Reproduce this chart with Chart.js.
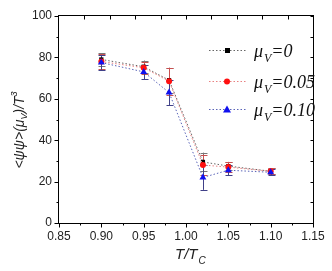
<!DOCTYPE html>
<html>
<head>
<meta charset="utf-8">
<script src="https://cdn.jsdelivr.net/npm/chart.js@4"></script>
<style>
  html, body { margin: 0; padding: 0; background: #fff; }
  #wrap { width: 332px; height: 271px; }
</style>
</head>
<body>
<div id="wrap"><canvas id="c" width="332" height="271"></canvas></div>
<script>
// data
const temps = [0.90, 0.95, 0.98, 1.02, 1.05, 1.10];
const mu0 = [79, 75.5, 69, 29.5, 27.5, 25];
const mu005 = [78, 75, 68.5, 28, 27, 25];
const mu010 = [77.5, 73, 63, 22, 25.5, 24.5];
const err0 = [3, 3, 6, 4.5, 2, 1.5];
const err005 = [3.5, 3, 6.5, 5, 2.5, 1.5];
const err010 = [3.5, 3.5, 6, 6, 2.5, 1.5];
const yTicks = [0, 20, 40, 60, 80, 100];
const xTicks = [0.85, 0.90, 0.95, 1.00, 1.05, 1.10, 1.15];
const labels = ['=0', '=0.05', '=0.10'];

const pts = (ys) => temps.map((t, i) => ({ x: t, y: ys[i] }));

const series = [
  { ys: mu0, err: err0, line: '#666', mark: '#000', bar: '#777', shape: 'rect', size: 3 },
  { ys: mu005, err: err005, line: '#e88080', mark: '#ff1010', bar: '#c85050', shape: 'circle', size: 3 },
  { ys: mu010, err: err010, line: '#5a64b8', mark: '#1010ee', bar: '#404088', shape: 'triangle', size: 4 },
];

// error bars + frame + ticks + titles + legend
const extras = {
  id: 'extras',
  beforeDatasetsDraw(chart) {
    const ctx = chart.ctx, y = chart.scales.y;
    ctx.save();
    ctx.lineWidth = 1;
    series.forEach((s, si) => {
      const meta = chart.getDatasetMeta(si);
      ctx.strokeStyle = s.bar;
      meta.data.forEach((p, i) => {
        const px = Math.round(p.x) + 0.5;
        const top = y.getPixelForValue(s.ys[i] + s.err[i]);
        const bot = y.getPixelForValue(s.ys[i] - s.err[i]);
        ctx.beginPath();
        ctx.moveTo(px, top); ctx.lineTo(px, bot);
        ctx.moveTo(px - 3, Math.round(top) + 0.5); ctx.lineTo(px + 4, Math.round(top) + 0.5);
        ctx.moveTo(px - 3, Math.round(bot) + 0.5); ctx.lineTo(px + 4, Math.round(bot) + 0.5);
        ctx.stroke();
      });
    });
    ctx.restore();
  },
  afterDraw(chart) {
    const ctx = chart.ctx, a = chart.chartArea;
    const xs = chart.scales.x, ys = chart.scales.y;
    ctx.save();
    ctx.strokeStyle = '#000';
    ctx.lineWidth = 1;
    const L = Math.round(a.left) - 0.5, R = Math.round(a.right) + 0.5;
    const T = Math.round(a.top) - 0.5, B = Math.round(a.bottom) + 0.5;
    ctx.strokeRect(L, T, R - L, B - T);
    ctx.beginPath();
    // left: outward ticks
    for (let v = 0; v <= 100; v += 10) {
      const py = Math.round(ys.getPixelForValue(v)) + 0.5;
      const len = v % 20 === 0 ? 4 : 2;
      ctx.moveTo(L - len, py); ctx.lineTo(L, py);
      // right: inward
      ctx.moveTo(R, py); ctx.lineTo(R - 3, py);
    }
    // bottom: outward
    for (let k = 0; k <= 12; k++) {
      const v = 0.85 + k * 0.025;
      const px = Math.round(xs.getPixelForValue(v)) + 0.5;
      const len = k % 2 === 0 ? 4 : 2;
      ctx.moveTo(px, B); ctx.lineTo(px, B + len);
    }
    // top: inward, offset spacing as in original
    for (let k = 0; k < 10; k++) {
      const v = 0.88 + k * 0.03;
      if (v > 1.15) break;
      const px = Math.round(xs.getPixelForValue(v)) + 0.5;
      ctx.moveTo(px, T); ctx.lineTo(px, T + 4);
    }
    ctx.stroke();

    // x title
    ctx.fillStyle = '#222';
    ctx.textBaseline = 'alphabetic';
    ctx.textAlign = 'left';
    ctx.font = 'italic 15px "Liberation Sans", Arial, sans-serif';
    let tx = 175;
    ctx.fillText('T/T', tx, 259);
    tx += ctx.measureText('T/T').width + 1;
    ctx.font = 'italic 10px "Liberation Sans", Arial, sans-serif';
    ctx.fillText('C', tx, 264);

    // y title, rotated
    ctx.save();
    ctx.translate(19, 130);
    ctx.rotate(-Math.PI / 2);
    const big = 'italic 14px "Liberation Sans", Arial, sans-serif';
    const small = 'italic 9px "Liberation Sans", Arial, sans-serif';
    const parts = [['<ψψ>(μ', big, 0], ['V', small, 3], [')/T', big, 0], ['3', small, -7]];
    let w = 0;
    parts.forEach(p => { ctx.font = p[1]; w += ctx.measureText(p[0]).width; });
    let cx = -w / 2;
    parts.forEach(p => {
      ctx.font = p[1];
      ctx.fillText(p[0], cx, 5 + p[2]);
      cx += ctx.measureText(p[0]).width;
    });
    ctx.restore();

    // legend
    const rows = [50, 81, 109];
    series.forEach((s, i) => {
      const ly = rows[i] + 0.5;
      ctx.save();
      ctx.strokeStyle = s.line;
      ctx.setLineDash([1.5, 2]);
      ctx.beginPath();
      ctx.moveTo(209, ly); ctx.lineTo(246, ly);
      ctx.stroke();
      ctx.restore();
      ctx.fillStyle = s.mark;
      ctx.beginPath();
      if (s.shape === 'rect') ctx.rect(225, ly - 2.5, 5, 5);
      else if (s.shape === 'circle') ctx.arc(227, ly, 3, 0, Math.PI * 2);
      else { ctx.moveTo(227, ly - 4); ctx.lineTo(231, ly + 3); ctx.lineTo(223, ly + 3); ctx.closePath(); }
      ctx.fill();

      ctx.fillStyle = '#111';
      ctx.font = 'italic 18px "Liberation Serif", "Times New Roman", serif';
      let lx = 254;
      ctx.fillText('μ', lx, ly + 6);
      lx += ctx.measureText('μ').width + 1;
      ctx.font = 'italic 12px "Liberation Serif", "Times New Roman", serif';
      ctx.fillText('V', lx, ly + 11);
      lx += ctx.measureText('V').width;
      ctx.font = 'italic 18px "Liberation Serif", "Times New Roman", serif';
      ctx.fillText(labels[i], lx, ly + 6);
    });
    ctx.restore();
  }
};

new Chart(document.getElementById('c'), {
  type: 'scatter',
  data: {
    datasets: series.map((s, i) => ({
      data: pts(s.ys),
      showLine: true,
      borderColor: s.line,
      borderWidth: 1,
      borderDash: [1.5, 2],
      backgroundColor: s.mark,
      pointBackgroundColor: s.mark,
      pointBorderColor: s.mark,
      pointStyle: s.shape,
      pointRadius: s.size,
      pointBorderWidth: 0,
      order: 3 - i,
    })),
  },
  options: {
    responsive: false,
    animation: false,
    devicePixelRatio: 1,
    layout: { padding: { top: 16, right: 19, left: 0, bottom: 0 } },
    plugins: { legend: { display: false }, tooltip: { enabled: false } },
    scales: {
      x: {
        type: 'linear', min: 0.85, max: 1.15,
        afterBuildTicks: (sc) => { sc.ticks = xTicks.map(v => ({ value: v })); },
        afterFit: (sc) => { sc.height = 48; },
        grid: { display: false, drawTicks: false },
        border: { display: false },
        ticks: {
          padding: 6, color: '#222',
          font: { family: '"Liberation Sans", Arial, sans-serif', size: 12 },
          callback: (v) => Number(v).toFixed(2),
        },
      },
      y: {
        min: 0, max: 100,
        afterBuildTicks: (sc) => { sc.ticks = yTicks.map(v => ({ value: v })); },
        afterFit: (sc) => { sc.width = 59; },
        grid: { display: false, drawTicks: false },
        border: { display: false },
        ticks: {
          padding: 7, color: '#222',
          font: { family: '"Liberation Sans", Arial, sans-serif', size: 12 },
        },
      },
    },
  },
  plugins: [extras],
});
</script>
</body>
</html>
